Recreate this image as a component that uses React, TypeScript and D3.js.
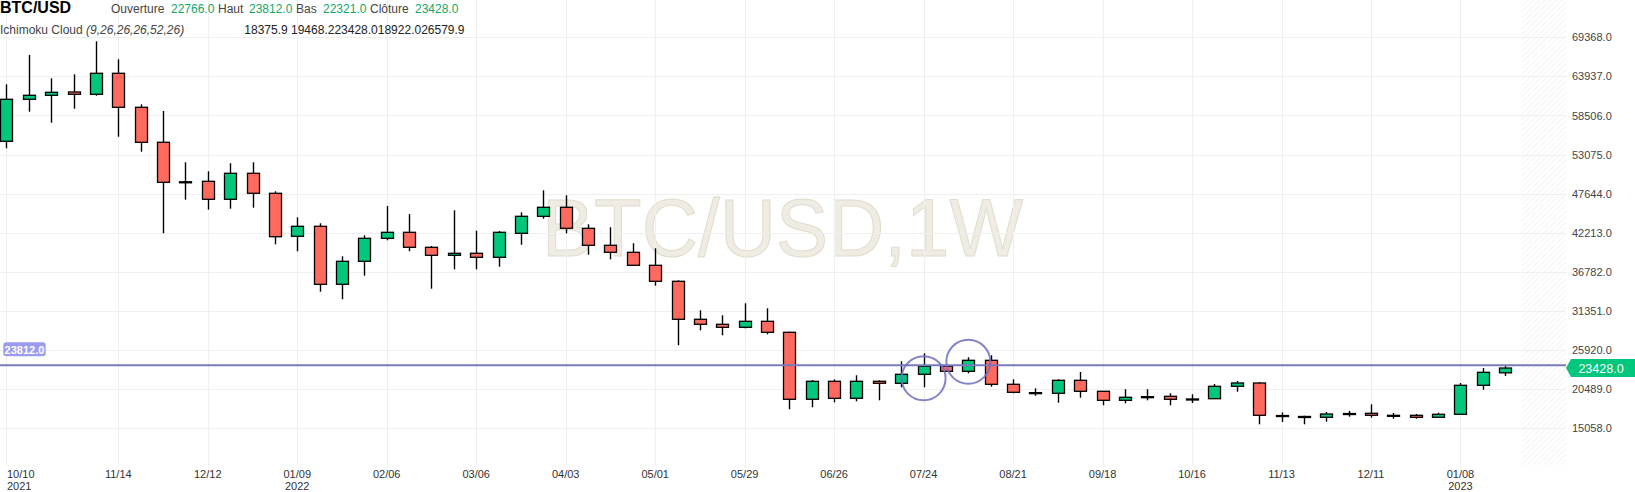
import React from 'react';
import * as d3 from 'd3';

// ---- data (weekly BTC/USD candles) ----
const dates = [
  '2021-10-10','2021-10-17','2021-10-24','2021-10-31','2021-11-07','2021-11-14','2021-11-21','2021-11-28',
  '2021-12-05','2021-12-12','2021-12-19','2021-12-26','2022-01-02','2022-01-09','2022-01-16','2022-01-23',
  '2022-01-30','2022-02-06','2022-02-13','2022-02-20','2022-02-27','2022-03-06','2022-03-13','2022-03-20',
  '2022-03-27','2022-04-03','2022-04-10','2022-04-17','2022-04-24','2022-05-01','2022-05-08','2022-05-15',
  '2022-05-22','2022-05-29','2022-06-05','2022-06-12','2022-06-19','2022-06-26','2022-07-03','2022-07-10',
  '2022-07-17','2022-07-24','2022-07-31','2022-08-07','2022-08-14','2022-08-21','2022-08-28','2022-09-04',
  '2022-09-11','2022-09-18','2022-09-25','2022-10-02','2022-10-09','2022-10-16','2022-10-23','2022-10-30',
  '2022-11-06','2022-11-13','2022-11-20','2022-11-27','2022-12-04','2022-12-11','2022-12-18','2022-12-25',
  '2023-01-01','2023-01-08','2023-01-15','2023-01-22'
];
const opens = [
  54922,60756,61312,61770,61451,64368,59645,54784,
  49280,49366,46866,50478,47700,41727,43116,35060,
  38254,41449,42282,40199,39088,39366,38810,42144,
  44505,45755,42838,40477,39504,37699,35476,30198,
  29504,29087,29921,28393,19086,21586,19225,21586,
  21309,22559,23670,22975,24503,21170,19980,19920,
  21725,20197,18947,19420,19503,19100,19170,20892,
  21351,16810,16670,16586,17080,17142,16860,16864,
  16586,17003,21031,22766
];
const highs = [
  62840,66910,63673,64229,68812,66312,60062,59131,
  52006,50755,51867,52006,47977,44366,43533,38949,
  41866,45935,44824,40379,45338,42505,42463,45060,
  48116,47422,43394,42977,40755,40060,35615,31448,
  30754,32421,31726,28475,21767,21864,22420,21725,
  24364,25476,23809,24920,25198,21864,20614,21864,
  22878,20197,20475,20475,19920,19781,21212,21628,
  21490,17280,16810,17323,17462,18392,17183,17045,
  17226,21351,23434,23812
];
const lows = [
  53950,59034,57506,59450,61256,55561,53478,42144,
  46810,45422,45561,45700,40616,39643,34032,32976,
  36254,41171,39643,34449,37143,37143,37505,40560,
  44172,42144,39171,38532,37600,34865,26587,28670,
  27976,28948,28115,17697,17975,18669,18808,18947,
  20753,20753,22900,22698,20837,19920,19587,18614,
  19308,18253,18531,18947,18253,18573,19150,20142,
  15614,15933,15614,15974,16670,16530,16392,16392,
  16550,16950,20420,22321
];
const closes = [
  60756,61312,61728,61451,64368,59645,54784,49228,
  49300,46866,50478,47700,41672,43116,35060,38254,
  41449,42282,40199,39088,39366,38810,42282,44505,
  45755,42838,40477,39504,37699,35476,30198,29504,
  29087,29921,28393,19086,21586,19225,21586,21309,
  22559,23670,22975,24503,21170,20058,20010,21725,
  20197,18947,19364,19450,19086,19130,20892,21351,
  16864,16830,16700,17045,17110,16864,16830,16586,
  17003,21031,22836,23428
];

const xTickDates = [
  '2021-10-10','2021-11-14','2021-12-12','2022-01-09','2022-02-06','2022-03-06','2022-04-03','2022-05-01',
  '2022-05-29','2022-06-26','2022-07-24','2022-08-21','2022-09-18','2022-10-16','2022-11-13','2022-12-11','2023-01-08'
];
const xTickLabels = ['10/10','11/14','12/12','01/09','02/06','03/06','04/03','05/01','05/29','06/26','07/24','08/21','09/18','10/16','11/13','12/11','01/08'];
const xTickYears = ['2021','','','2022','','','','','','','','','','','','','2023'];

const yTicks = [15058, 20489, 25920, 31351, 36782, 42213, 47644, 53075, 58506, 63937, 69368];

const symbol = 'BTC/USD';
const watermark = 'BTC/USD,1W';
const ohlcLabels = ['Ouverture', 'Haut', 'Bas', 'Clôture'];
const ohlcValues = ['22766.0', '23812.0', '22321.0', '23428.0'];
const indicatorName = 'Ichimoku Cloud';
const indicatorParams = '(9,26,26,26,52,26)';
const indicatorValues = '18375.9 19468.223428.018922.026579.9';
const highLine = 23812;
const lastClose = 23428;
const circledDates = ['2022-07-24', '2022-08-07'];

const GREEN = '#00c77b';
const RED = '#ff6a5f';
const FONT = '"Liberation Sans", Arial, Helvetica, sans-serif';

export default function App() {
  const W = 1635, H = 492;
  const parse = d3.utcParse('%Y-%m-%d');
  const plotRight = 1521.5;
  const axisLeft = 1566;
  const plotBottom = 465;

  const x = d3.scaleUtc()
    .domain([parse(dates[0]) as Date, parse(dates[dates.length - 1]) as Date])
    .range([6.45, 1505.2]);
  const y = d3.scaleLinear().domain([15058, 69368]).range([428.3, 37.3]);

  const bodyW = 12;

  const candles = dates.map((d, i) => {
    const cx = Math.round(x(parse(d) as Date)) + 0.5;
    const o = opens[i], c = closes[i], h = highs[i], l = lows[i];
    const up = c >= o;
    const yTop = y(Math.max(o, c));
    const yBot = y(Math.min(o, c));
    const bh = Math.max(1, yBot - yTop);
    return (
      <g key={d}>
        <line x1={cx} x2={cx} y1={y(h)} y2={y(l)} stroke="#000" strokeWidth={1.4} />
        <rect x={cx - bodyW / 2} y={yTop} width={bodyW} height={bh}
          fill={up ? GREEN : RED} stroke="#000" strokeWidth={1.3} />
      </g>
    );
  });

  const hl = y(highLine);
  const lc = y(lastClose);

  const valueX = [171, 249, 323, 415];
  const labelX = [111, 218, 296, 370];

  return (
    <svg width={W} height={H} style={{ position: 'absolute', left: 0, top: 0, display: 'block', background: '#fff' }}
      fontFamily={FONT}>
      <defs>
        <pattern id="hatch" width={4} height={4} patternUnits="userSpaceOnUse" patternTransform="rotate(45)">
          <line x1={0} y1={0} x2={0} y2={4} stroke="#e9e9e9" strokeWidth={1} />
        </pattern>
      </defs>
      <rect x={0} y={0} width={W} height={H} fill="#fff" />
      {/* hatched future area */}
      <rect x={plotRight} y={0} width={axisLeft - plotRight} height={plotBottom} fill="url(#hatch)" />

      {/* watermark */}
      <text x={542} y={255.7} fontSize={81} fill="#efece4" stroke="#e2dccb" strokeWidth={1}
        textLength={481} lengthAdjust="spacingAndGlyphs">{watermark}</text>

      {/* grid */}
      {yTicks.map(t => (
        <line key={'gy' + t} x1={0} x2={axisLeft} y1={Math.round(y(t)) + 0.5} y2={Math.round(y(t)) + 0.5}
          stroke="#efefef" strokeWidth={1} />
      ))}
      {xTickDates.map(d => {
        const gx = Math.round(x(parse(d) as Date)) + 0.5;
        return <line key={'gx' + d} x1={gx} x2={gx} y1={0} y2={plotBottom} stroke="#efefef" strokeWidth={1} />;
      })}

      {/* candles */}
      {candles}

      {/* high price line */}
      <line x1={0} x2={axisLeft} y1={hl} y2={hl} stroke="#7a7abf" strokeWidth={2} />
      <rect x={3.3} y={342.3} width={42.4} height={14} rx={3} fill="#9b9bf0" />
      <text x={24.5} y={353.5} fontSize={11} fontWeight="bold" fill="#fff" textAnchor="middle">{highLine.toFixed(1)}</text>

      {/* circles */}
      {circledDates.map((d, i) => {
        const idx = dates.indexOf(d);
        const cx = x(parse(d) as Date);
        const cy = y((opens[idx] + closes[idx]) / 2) + (i === 0 ? 8 : -4);
        return <circle key={'c' + d} cx={cx} cy={cy} r={22} fill="none" stroke="#6f6fbf" strokeOpacity={0.85} strokeWidth={2} />;
      })}

      {/* y axis labels */}
      {yTicks.map(t => (
        <text key={'yl' + t} x={1572} y={y(t) + 4} fontSize={11} fill="#444">{t.toFixed(1)}</text>
      ))}
      {/* last price tag */}
      <path d={`M${axisLeft},${lc} L${axisLeft + 5},${lc - 9} L${W},${lc - 9} L${W},${lc + 9} L${axisLeft + 5},${lc + 9} Z`} fill={GREEN} />
      <text x={1601} y={lc + 4.5} fontSize={12.5} fill="#fff" textAnchor="middle">{lastClose.toFixed(1)}</text>

      {/* x axis labels */}
      {xTickDates.map((d, i) => {
        const gx = x(parse(d) as Date);
        const first = i === 0;
        return (
          <g key={'xl' + d}>
            <text x={first ? 7 : gx} y={478} fontSize={11} fill="#333" textAnchor={first ? 'start' : 'middle'}>{xTickLabels[i]}</text>
            {xTickYears[i] && (
              <text x={first ? 7 : gx} y={490} fontSize={11} fill="#333" textAnchor={first ? 'start' : 'middle'}>{xTickYears[i]}</text>
            )}
          </g>
        );
      })}

      {/* header */}
      <text x={0} y={12.5} fontSize={16} fontWeight="bold" fill="#000">{symbol}</text>
      {ohlcLabels.map((l, i) => (
        <g key={l}>
          <text x={labelX[i]} y={12.5} fontSize={12} fill="#444">{l}</text>
          <text x={valueX[i]} y={12.5} fontSize={12} fill="#10a868">{ohlcValues[i]}</text>
        </g>
      ))}
      <text x={0} y={33.5} fontSize={12} fill="#444">
        {indicatorName} <tspan fontStyle="italic">{indicatorParams}</tspan>
      </text>
      <text x={244.3} y={33.5} fontSize={12} fill="#222">{indicatorValues}</text>
    </svg>
  );
}
